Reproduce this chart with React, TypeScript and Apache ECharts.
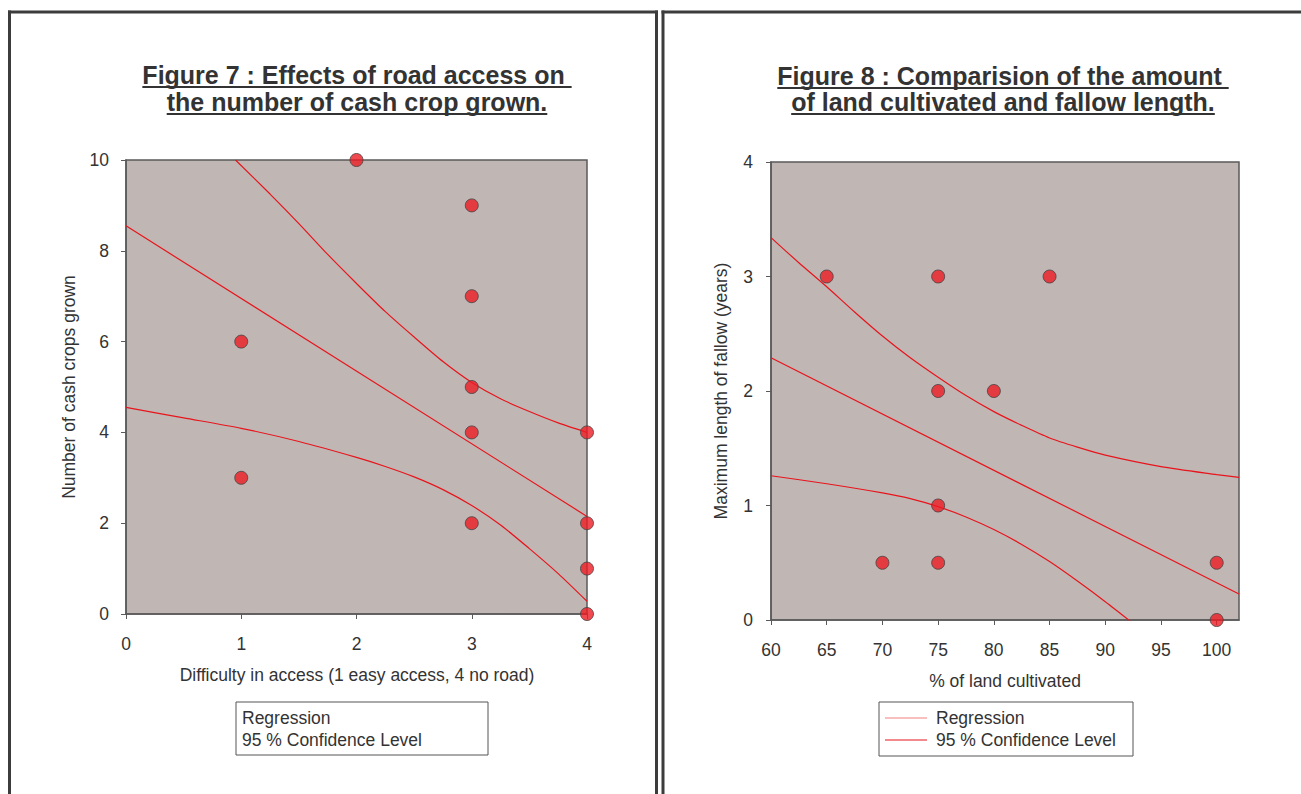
import React, { useEffect, useRef } from "react";
import * as echarts from "echarts";

// ---------- data ----------
const fig7Points: number[][] = [
  [1, 6], [1, 3], [2, 10], [3, 9], [3, 7], [3, 5], [3, 4], [3, 2],
  [4, 4], [4, 2], [4, 1], [4, 0],
];
const fig7Regression: number[][] = [[0, 8.55], [4, 2.15]];
const fig7Upper: number[][] = [
  [0.95, 10], [1.25, 9.25], [1.5, 8.6], [1.75, 7.92], [2, 7.28], [2.25, 6.66], [2.5, 6.1],
  [2.75, 5.56], [3, 5.1], [3.25, 4.74], [3.5, 4.46], [3.75, 4.21], [4, 4.0],
];
const fig7Lower: number[][] = [
  [0, 4.55], [0.5, 4.32], [1, 4.09], [1.5, 3.8], [2, 3.45], [2.25, 3.25], [2.5, 3.02], [2.75, 2.74],
  [3, 2.39], [3.25, 1.96], [3.5, 1.44], [3.75, 0.89], [4, 0.28],
];
const fig7XTicks = [0, 1, 2, 3, 4];
const fig7YTicks = [0, 2, 4, 6, 8, 10];

const fig8Points: number[][] = [
  [65, 3], [75, 3], [85, 3], [75, 2], [80, 2], [75, 1], [70, 0.5], [75, 0.5],
  [100, 0.5], [100, 0],
];
const fig8Regression: number[][] = [[60, 2.29], [102, 0.227]];
const fig8Upper: number[][] = [
  [60, 3.34], [62.5, 3.12], [65, 2.91], [67.5, 2.69], [70, 2.48], [72.5, 2.29], [75, 2.12],
  [77.5, 1.96], [80, 1.82], [82.5, 1.7], [85, 1.59], [87.5, 1.51], [90, 1.44], [95, 1.34],
  [100, 1.27], [102, 1.245],
];
const fig8Lower: number[][] = [
  [60, 1.26], [65, 1.19], [70, 1.11], [72.5, 1.06], [75, 0.99], [77.5, 0.9], [80, 0.79],
  [82.5, 0.66], [85, 0.51], [87.5, 0.34], [90, 0.16], [92.5, -0.03],
];
const fig8XTicks = [60, 65, 70, 75, 80, 85, 90, 95, 100];
const fig8YTicks = [0, 1, 2, 3, 4];

const fig7Title = ["Figure 7 : Effects of road access on ", "the number of cash crop grown."];
const fig8Title = ["Figure 8 : Comparision of the amount ", "of land cultivated and fallow length."];
const legendLabels = ["Regression", "95 % Confidence Level"];

// ---------- style ----------
const FONT = "'Liberation Sans', Arial, Helvetica, sans-serif";
const TEXT = "#333333";
const AXIS = "#5a5a5a";
const FRAME = "#3c3c3c";
const PLOT_BG = "#c0b7b4";
const RED = "#e8141c";
const TITLE_SIZE = 25;
const LABEL_SIZE = 17.5;

function measure(text: string, font: string): number {
  const c = document.createElement("canvas").getContext("2d");
  if (!c) return text.length * 10;
  c.font = font;
  return c.measureText(text).width;
}

function axis(gridIndex: number, min: number, max: number, ticks: number[], margin: number) {
  return {
    type: "value",
    gridIndex,
    min,
    max,
    axisLine: { show: true, onZero: false, lineStyle: { color: AXIS, width: 1.5 } },
    axisTick: {
      show: true,
      length: 5,
      inside: false,
      customValues: ticks,
      lineStyle: { color: AXIS, width: 1 },
    },
    axisLabel: {
      customValues: ticks,
      fontSize: LABEL_SIZE,
      fontFamily: FONT,
      color: TEXT,
      margin,
    },
    splitLine: { show: false },
  };
}

function curve(data: number[][], xAxisIndex: number, color: string) {
  return {
    type: "line",
    xAxisIndex,
    yAxisIndex: xAxisIndex,
    data,
    smooth: 0.25,
    symbol: "none",
    showSymbol: false,
    silent: true,
    clip: true,
    lineStyle: { color, width: 1.2 },
    z: 3,
  };
}

function points(data: number[][], idx: number) {
  return {
    type: "scatter",
    xAxisIndex: idx,
    yAxisIndex: idx,
    data,
    symbol: "circle",
    symbolSize: 13,
    clip: false,
    itemStyle: { color: "#ec1c24", borderColor: "#444444", borderWidth: 1 },
    z: 5,
  };
}

function titleGraphics(lines: string[], cx: number, ys: number[]) {
  const font = `bold ${TITLE_SIZE}px 'Liberation Sans'`;
  const out: any[] = [];
  lines.forEach((t, i) => {
    out.push({
      type: "text",
      x: cx,
      y: ys[i],
      style: {
        text: t,
        fontSize: TITLE_SIZE,
        fontWeight: "bold",
        fontFamily: FONT,
        fill: TEXT,
        textAlign: "center",
        textVerticalAlign: "middle",
      },
    });
    const w = measure(t, font);
    out.push({
      type: "line",
      shape: { x1: cx - w / 2, y1: ys[i] + 12, x2: cx + w / 2, y2: ys[i] + 12 },
      style: { stroke: TEXT, lineWidth: 1.8 },
    });
  });
  return out;
}

function legendGraphics(x: number, y: number, w: number, h: number, withLines: boolean, textX: number) {
  const out: any[] = [
    {
      type: "rect",
      shape: { x, y, width: w, height: h },
      style: { fill: "#ffffff", stroke: "#555555", lineWidth: 1 },
    },
  ];
  const rows = [y + 16, y + 38];
  legendLabels.forEach((t, i) => {
    if (withLines) {
      out.push({
        type: "line",
        shape: { x1: x + 6, y1: rows[i], x2: x + 48, y2: rows[i] },
        style: { stroke: i === 0 ? "#f08080" : RED, lineWidth: 1.2 },
      });
    }
    out.push({
      type: "text",
      x: textX,
      y: rows[i],
      style: {
        text: t,
        fontSize: LABEL_SIZE,
        fontFamily: FONT,
        fill: TEXT,
        textAlign: "left",
        textVerticalAlign: "middle",
      },
    });
  });
  return out;
}

export default function App() {
  const ref = useRef<HTMLDivElement>(null);

  useEffect(() => {
    document.body.style.margin = "0";
    if (!ref.current) return;
    const chart = echarts.init(ref.current, undefined, { renderer: "svg" });

    const axisName = (text: string, x: number, y: number, rotate: boolean) => ({
      type: "text",
      x,
      y,
      rotation: rotate ? Math.PI / 2 : 0,
      style: {
        text,
        fontSize: LABEL_SIZE,
        fontFamily: FONT,
        fill: TEXT,
        textAlign: "center",
        textVerticalAlign: "middle",
      },
    });

    const graphics: any[] = [
      // panel frames
      { type: "line", shape: { x1: 9.5, y1: 10.5, x2: 9.5, y2: 800 }, style: { stroke: FRAME, lineWidth: 3 } },
      { type: "line", shape: { x1: 8, y1: 12, x2: 658, y2: 12 }, style: { stroke: FRAME, lineWidth: 3 } },
      { type: "line", shape: { x1: 656.5, y1: 10.5, x2: 656.5, y2: 800 }, style: { stroke: FRAME, lineWidth: 3 } },
      { type: "line", shape: { x1: 663, y1: 10.5, x2: 663, y2: 800 }, style: { stroke: FRAME, lineWidth: 3 } },
      { type: "line", shape: { x1: 661.5, y1: 12, x2: 1301, y2: 12 }, style: { stroke: FRAME, lineWidth: 3 } },
      ...titleGraphics(fig7Title, 357, [75, 102]),
      ...titleGraphics(fig8Title, 1003, [76, 102]),
      axisName("Difficulty in access (1 easy access, 4 no road)", 357, 675, false),
      axisName("% of land cultivated", 1005, 681, false),
      axisName("Number of cash crops grown", 69, 387, true),
      axisName("Maximum length of fallow (years)", 721, 391, true),
      ...legendGraphics(236, 702, 252, 53, false, 242),
      ...legendGraphics(879, 702, 254, 54, true, 936),
    ];

    chart.setOption({
      animation: false,
      backgroundColor: "#ffffff",
      textStyle: { fontFamily: FONT },
      grid: [
        { left: 126, top: 160, width: 461, height: 454, show: true, backgroundColor: PLOT_BG, borderColor: AXIS, borderWidth: 1.5 },
        { left: 771, top: 162, width: 468, height: 458, show: true, backgroundColor: PLOT_BG, borderColor: AXIS, borderWidth: 1.5 },
      ],
      xAxis: [axis(0, 0, 4, fig7XTicks, 21), axis(1, 60, 102, fig8XTicks, 21)],
      yAxis: [axis(0, 0, 10, fig7YTicks, 17), axis(1, 0, 4, fig8YTicks, 18)],
      series: [
        curve(fig7Regression, 0, RED),
        curve(fig7Upper, 0, RED),
        curve(fig7Lower, 0, RED),
        points(fig7Points, 0),
        curve(fig8Regression, 1, RED),
        curve(fig8Upper, 1, RED),
        curve(fig8Lower, 1, RED),
        points(fig8Points, 1),
      ],
      graphic: graphics,
    });

    return () => chart.dispose();
  }, []);

  return (
    <div
      ref={ref}
      style={{ position: "absolute", left: 0, top: 0, width: 1301, height: 794, overflow: "hidden" }}
    />
  );
}
